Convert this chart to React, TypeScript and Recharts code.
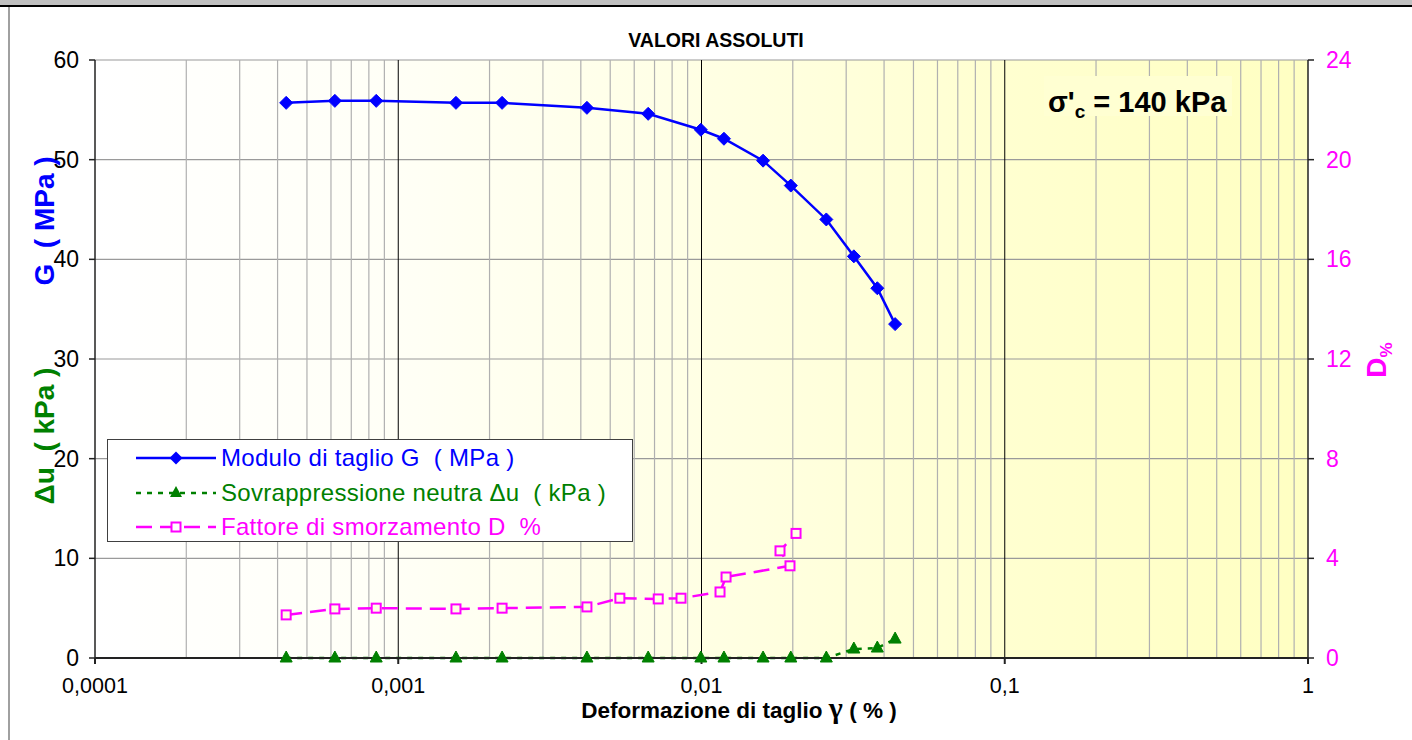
import React from 'react';
import {
  ComposedChart,
  Line,
  XAxis,
  YAxis,
  CartesianGrid,
  Legend,
  Customized,
} from 'recharts';

// ---- data ----
const strainG = [0.000427, 0.000618, 0.000846, 0.00155, 0.0022, 0.00419, 0.00667, 0.00995, 0.01186, 0.01596, 0.0197, 0.0258, 0.0318, 0.038, 0.0435];
const modG = [55.7, 55.9, 55.9, 55.7, 55.7, 55.2, 54.6, 53.0, 52.1, 49.9, 47.4, 44.0, 40.3, 37.1, 33.5];
const deltaU = [0, 0, 0, 0, 0, 0, 0, 0, 0, 0, 0, 0, 0.9, 1.0, 1.9];
const strainD = [0.000427, 0.000618, 0.000846, 0.00155, 0.0022, 0.00419, 0.00538, 0.0072, 0.00856, 0.01151, 0.01205, 0.01958, 0.01815, 0.0205];
const dampD = [1.73, 1.97, 2.0, 1.97, 2.0, 2.05, 2.4, 2.37, 2.4, 2.65, 3.25, 3.7, 4.3, 5.0];

const xTicks = [0.0001, 0.001, 0.01, 0.1, 1];
const xTickLabels = ['0,0001', '0,001', '0,01', '0,1', '1'];
const leftTicks = [0, 10, 20, 30, 40, 50, 60];
const rightTicks = [0, 4, 8, 12, 16, 20, 24];
const majorX = [0.001, 0.01, 0.1];
const decades = [0.0001, 0.001, 0.01, 0.1];
const multipliers = [2, 3, 4, 5, 6, 7, 8, 9];

const seriesNames = [
  'Modulo di taglio G  ( MPa )',
  'Sovrappressione neutra \u0394u  ( kPa )',
  'Fattore di smorzamento D  %',
];

const gData = strainG.map((x, i) => ({ x, g: modG[i] }));
const uData = strainG.map((x, i) => ({ x, u: deltaU[i] }));
const dData = strainD.map((x, i) => ({ x, d: dampD[i] }));
const minorX = decades.flatMap((d) => multipliers.map((m) => m * d));

const FONT = '"Liberation Sans", Arial, sans-serif';
const BLUE = '#0000FF';
const GREEN = '#008000';
const MAGENTA = '#FF00FF';

const diamond = (p: any) => {
  const { cx, cy, index } = p;
  if (cx == null || cy == null) return <g key={`gd${index}`} />;
  const r = 6.5;
  return (
    <polygon
      key={`gd${index}`}
      points={`${cx},${cy - r} ${cx + r},${cy} ${cx},${cy + r} ${cx - r},${cy}`}
      fill={BLUE}
      stroke={BLUE}
      strokeWidth={1}
    />
  );
};

const triangle = (p: any) => {
  const { cx, cy, index } = p;
  if (cx == null || cy == null) return <g key={`ut${index}`} />;
  return (
    <polygon
      key={`ut${index}`}
      points={`${cx},${cy - 7} ${cx + 6},${cy + 4} ${cx - 6},${cy + 4}`}
      fill={GREEN}
      stroke={GREEN}
      strokeWidth={1}
    />
  );
};

const square = (p: any) => {
  const { cx, cy, index } = p;
  if (cx == null || cy == null) return <g key={`ds${index}`} />;
  return (
    <rect
      key={`ds${index}`}
      x={cx - 4.5}
      y={cy - 4.5}
      width={9}
      height={9}
      fill="#FFFFE4"
      stroke={MAGENTA}
      strokeWidth={2}
    />
  );
};

const legendContent = () => {
  const rows = [
    { color: BLUE, dash: undefined as string | undefined, marker: 'diamond' },
    { color: GREEN, dash: '5 6', marker: 'triangle' },
    { color: MAGENTA, dash: '16 8', marker: 'square' },
  ];
  const rowY = [18, 53, 87];
  return (
    <div
      style={{
        position: 'relative',
        width: 526,
        height: 103,
        boxSizing: 'border-box',
        border: '1.5px solid #404040',
        background: '#FFFFFF',
        fontFamily: FONT,
      }}
    >
      {rows.map((r, i) => (
        <div key={i}>
          <svg
            width={84}
            height={20}
            style={{ position: 'absolute', left: 28, top: rowY[i] - 10 }}
          >
            <line x1={0} y1={10} x2={80} y2={10} stroke={r.color} strokeWidth={2.5} strokeDasharray={r.dash} />
            {r.marker === 'diamond' && <polygon points="40,3.5 46.5,10 40,16.5 33.5,10" fill={BLUE} />}
            {r.marker === 'triangle' && <polygon points="40,3 46,14 34,14" fill={GREEN} />}
            {r.marker === 'square' && (
              <rect x={35.5} y={5.5} width={9} height={9} fill="#FFFFFF" stroke={MAGENTA} strokeWidth={2} />
            )}
          </svg>
          <div
            style={{
              position: 'absolute',
              left: 113,
              top: rowY[i] - 15,
              fontSize: 24,
              letterSpacing: 0.3,
              lineHeight: '29px',
              color: r.color,
              whiteSpace: 'pre',
            }}
          >
            {seriesNames[i]}
          </div>
        </div>
      ))}
    </div>
  );
};

const Overlay = () => (
  <g fontFamily={FONT}>
    <text x={716} y={47} textAnchor="middle" fontSize={19.5} fontWeight="bold" fill="#000">
      VALORI ASSOLUTI
    </text>
    <text
      x={54}
      y={221}
      transform="rotate(-90 54 221)"
      textAnchor="middle"
      fontSize={28}
      fontWeight="bold"
      fill={BLUE}
      style={{ whiteSpace: 'pre' }}
    >
      {'G  ( MPa )'}
    </text>
    <text
      x={54}
      y={436}
      transform="rotate(-90 54 436)"
      textAnchor="middle"
      fontSize={28}
      fontWeight="bold"
      fill={GREEN}
      style={{ whiteSpace: 'pre' }}
    >
      {'\u0394u  ( kPa )'}
    </text>
    <text
      x={1386}
      y={360}
      transform="rotate(-90 1386 360)"
      textAnchor="middle"
      fontSize={28}
      fontWeight="bold"
      fill={MAGENTA}
    >
      D
      <tspan fontSize={17} dy={6}>%</tspan>
    </text>
    <rect x={1044} y={76} width={188} height={40} fill="#FFFFD2" />
    <text x={1048} y={112} fontSize={29} fontWeight="bold" fill="#000" style={{ whiteSpace: 'pre' }}>
      {"\u03C3'"}
      <tspan fontSize={19} dy={6}>c</tspan>
      <tspan dy={-6}>{' = 140 kPa'}</tspan>
    </text>
    <text x={739} y={718} textAnchor="middle" fontSize={22.5} fontWeight="bold" fill="#000" style={{ whiteSpace: 'pre' }}>
      {'Deformazione di taglio '}
      <tspan fontFamily='"Liberation Serif", serif' fontSize={30}>{'\u03B3'}</tspan>
      {' ( % )'}
    </text>
  </g>
);

export default function App() {
  return (
    <div
      style={{
        position: 'absolute',
        left: 0,
        top: 0,
        width: 1412,
        height: 740,
        background: '#FFFFFF',
        overflow: 'hidden',
      }}
    >
      <div style={{ position: 'absolute', left: 0, top: 0, width: 1412, height: 5, background: '#C0C0C0' }} />
      <div style={{ position: 'absolute', left: 0, top: 5, width: 1412, height: 2, background: '#000000' }} />
      <div style={{ position: 'absolute', left: 8, top: 7, width: 1.5, height: 733, background: '#A0A0A0' }} />
      <div style={{ position: 'absolute', left: 0, top: 0 }}>
        <ComposedChart
          width={1412}
          height={740}
          margin={{ top: 60, right: 44, bottom: 42, left: 35 }}
        >
          <defs>
            <linearGradient id="bgGrad" x1="0" y1="0" x2="1" y2="0">
              <stop offset="0%" stopColor="#FFFFFF" />
              <stop offset="25%" stopColor="#FFFFF6" />
              <stop offset="50%" stopColor="#FFFFE4" />
              <stop offset="75%" stopColor="#FFFFD0" />
              <stop offset="100%" stopColor="#FFFFC2" />
            </linearGradient>
          </defs>
          <CartesianGrid
            yAxisId="left"
            fill="url(#bgGrad)"
            fillOpacity={1}
            vertical={false}
            stroke="#9A9A9A"
            strokeWidth={1.2}
          />
          <CartesianGrid
            yAxisId="left"
            horizontal={false}
            stroke="#B0B0B0"
            strokeWidth={1.2}
            verticalValues={minorX}
          />
          <CartesianGrid
            yAxisId="left"
            horizontal={false}
            stroke="#000000"
            strokeWidth={1}
            verticalValues={majorX}
          />
          <XAxis
            dataKey="x"
            type="number"
            scale="log"
            domain={[0.0001, 1]}
            ticks={xTicks}
            allowDataOverflow
            tickFormatter={(v: number) => xTickLabels[xTicks.findIndex((t) => Math.abs(t - v) < t * 1e-6)] ?? ''}
            height={40}
            stroke="#222222"
            strokeWidth={2}
            tickSize={6}
            tickMargin={14}
            tick={{ fontSize: 21.5, fill: '#000000', fontFamily: FONT }}
            interval={0}
          />
          <YAxis
            yAxisId="left"
            domain={[0, 60]}
            ticks={leftTicks}
            width={60}
            stroke="#222222"
            strokeWidth={1.5}
            tickSize={6}
            tickMargin={10}
            tick={{ fontSize: 23, fill: '#000000', fontFamily: FONT }}
            interval={0}
          />
          <YAxis
            yAxisId="right"
            orientation="right"
            domain={[0, 24]}
            ticks={rightTicks}
            width={60}
            stroke="#222222"
            strokeWidth={1.5}
            tickSize={6}
            tickMargin={12}
            tick={{ fontSize: 23, fill: MAGENTA, fontFamily: FONT }}
            interval={0}
          />
          <Line
            yAxisId="left"
            data={uData}
            dataKey="u"
            name={seriesNames[1]}
            stroke={GREEN}
            strokeWidth={2.5}
            strokeDasharray="5 6"
            dot={triangle}
            activeDot={false}
            isAnimationActive={false}
          />
          <Line
            yAxisId="right"
            data={dData}
            dataKey="d"
            name={seriesNames[2]}
            stroke={MAGENTA}
            strokeWidth={2.5}
            strokeDasharray="16 8"
            dot={square}
            activeDot={false}
            isAnimationActive={false}
          />
          <Line
            yAxisId="left"
            data={gData}
            dataKey="g"
            name={seriesNames[0]}
            stroke={BLUE}
            strokeWidth={2.5}
            dot={diamond}
            activeDot={false}
            isAnimationActive={false}
          />
          <Legend
            layout="vertical"
            align="center"
            verticalAlign="middle"
            content={legendContent}
            wrapperStyle={{ position: 'absolute', left: 107, top: 439, width: 526, height: 103 }}
          />
          <Customized component={Overlay} />
        </ComposedChart>
      </div>
    </div>
  );
}
